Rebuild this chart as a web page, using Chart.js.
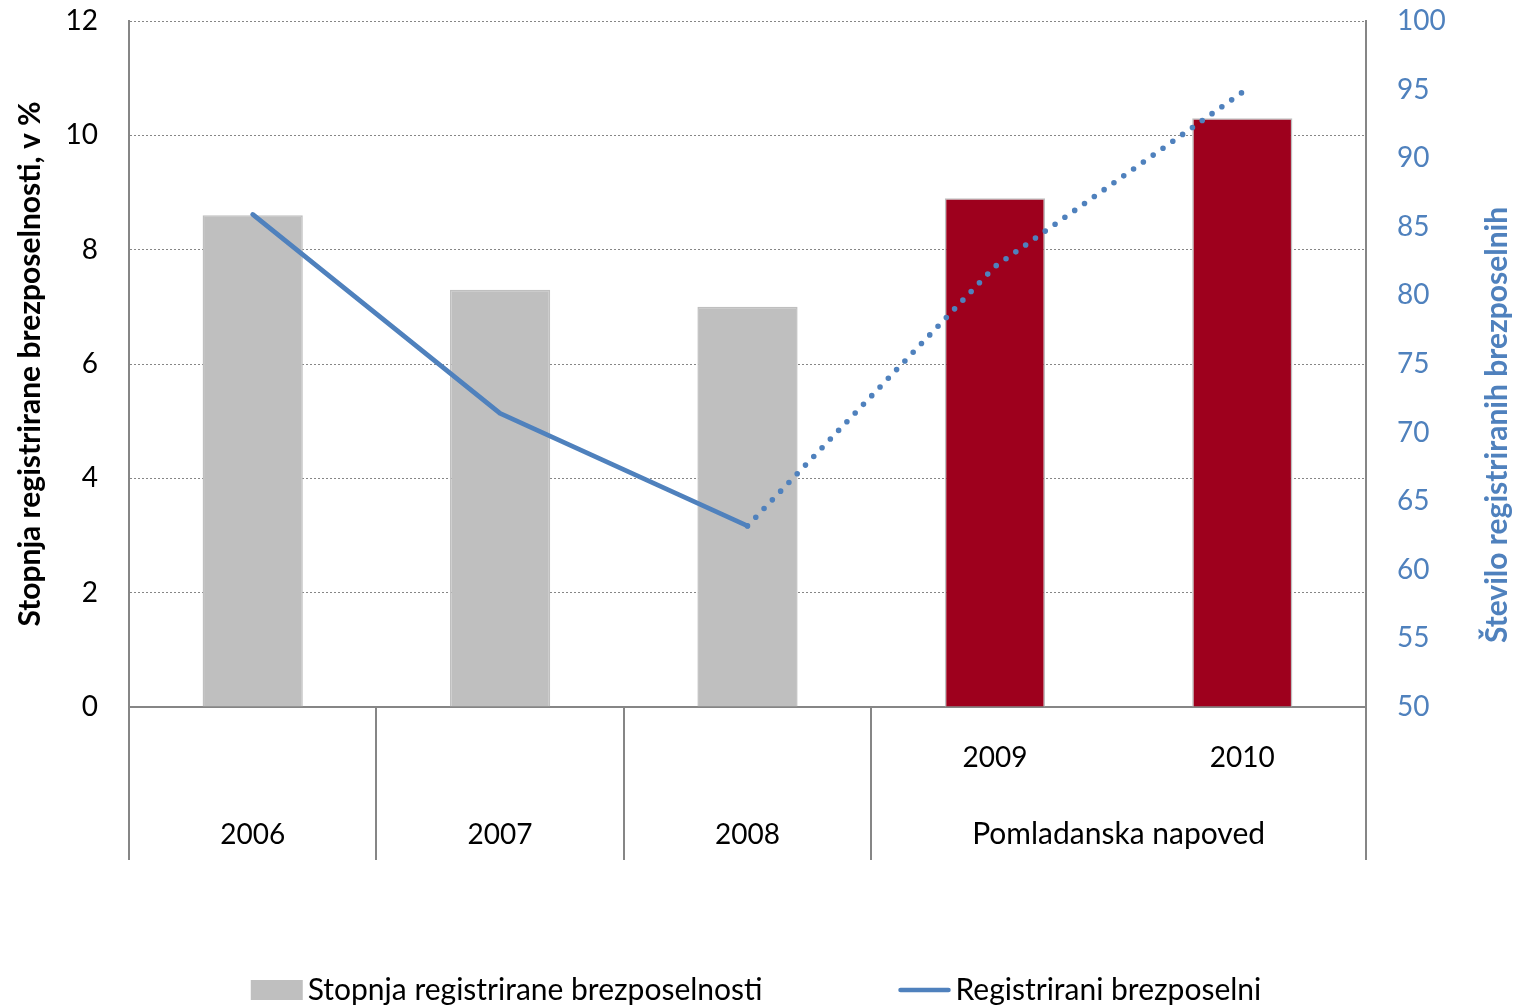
<!DOCTYPE html>
<html lang="sl">
<head>
  <meta charset="UTF-8">
  <title>Registrirana brezposelnost</title>
  <script src="https://cdn.jsdelivr.net/npm/chart.js"></script>
  <style>
    body {
      margin: 0;
      background: #fff;
    }
    #wrap {
      width: 1524px;
      height: 1008px;
      position: relative;
    }
  </style>
</head>
<body>
  <div id="wrap">
    <canvas id="chart"></canvas>
  </div>

  <script>
    // Data
    const categories = ['2006', '2007', '2008', '2009', '2010'];
    const rateValues = [8.6, 7.3, 7.0, 8.9, 10.3];          // % (left axis)
    const unemployedValues = [85.9, 71.4, 63.2, 82.1, 94.8]; // thousands (right axis)
    const forecastStart = 3;                                 // 2009 onwards = forecast
    const forecastGroup = 'Pomladanska napoved';
    const leftTicks = [0, 2, 4, 6, 8, 10, 12];
    const rightTicks = [50, 55, 60, 65, 70, 75, 80, 85, 90, 95, 100];

    const rateLabel = 'Stopnja registrirane brezposelnosti';
    const unemployedLabel = 'Registrirani brezposelni';
    const leftTitle = 'Stopnja registrirane brezposelnosti, v %';
    const rightTitle = 'Število registriranih brezposelnih';

    const FONT = 'Lato';
    const NUM_SIZE = 28;
    const TEXT_SIZE = 30;
    const GRAY = '#BFBFBF';
    const RED = '#9E001D';
    const BLUE = '#4F81BD';
    const AXIS = '#868686';

    // extra drawing: group label under the forecast years, right title, legend
    const extras = {
      id: 'extras',
      afterDraw(chart) {
        const ctx = chart.ctx;
        const x = chart.scales.x;
        const y1 = chart.scales.y1;
        const area = chart.chartArea;
        ctx.save();

        // group label centred under the forecast categories
        const step = x.getPixelForValue(1) - x.getPixelForValue(0);
        const gStart = x.getPixelForValue(forecastStart) - step / 2;
        const gEnd = x.getPixelForValue(categories.length - 1) + step / 2;
        ctx.font = TEXT_SIZE + 'px ' + FONT;
        ctx.fillStyle = '#000';
        ctx.textAlign = 'center';
        ctx.textBaseline = 'middle';
        ctx.fillText(forecastGroup, (gStart + gEnd) / 2, area.bottom + 127);

        // right axis title (reads bottom to top)
        ctx.save();
        ctx.translate(y1.right - 27, 425);
        ctx.rotate(-Math.PI / 2);
        ctx.font = 'bold ' + TEXT_SIZE + 'px ' + FONT;
        ctx.fillStyle = BLUE;
        ctx.fillText(rightTitle, 0, 0);
        ctx.restore();

        // legend
        ctx.font = TEXT_SIZE + 'px ' + FONT;
        ctx.textAlign = 'left';
        const boxW = 52, gap = 5, itemGap = 136;
        const w1 = boxW + gap + ctx.measureText(rateLabel).width;
        const w2 = boxW + gap + ctx.measureText(unemployedLabel).width;
        let lx = 756 - (w1 + itemGap + w2) / 2;
        const ly = 990;
        ctx.fillStyle = GRAY;
        ctx.fillRect(lx, ly - 10, boxW, 20);
        ctx.fillStyle = '#000';
        ctx.fillText(rateLabel, lx + boxW + gap, ly);
        lx += w1 + itemGap;
        ctx.strokeStyle = BLUE;
        ctx.lineWidth = 4.5;
        ctx.lineCap = 'round';
        ctx.beginPath();
        ctx.moveTo(lx + 2, ly);
        ctx.lineTo(lx + boxW - 2, ly);
        ctx.stroke();
        ctx.fillText(unemployedLabel, lx + boxW + gap, ly);

        ctx.restore();
      }
    };

    const ctx = document.getElementById('chart').getContext('2d');

    new Chart(ctx, {
      data: {
        labels: categories,
        datasets: [
          {
            type: 'line',
            label: unemployedLabel,
            data: unemployedValues,
            yAxisID: 'y1',
            borderColor: BLUE,
            backgroundColor: BLUE,
            borderWidth: 4.8,
            borderCapStyle: 'round',
            borderJoinStyle: 'round',
            pointRadius: 0,
            tension: 0,
            order: 0,
            segment: {
              borderDash: c => c.p1DataIndex >= forecastStart ? [0, 12] : undefined,
              borderWidth: c => c.p1DataIndex >= forecastStart ? 5.6 : undefined
            }
          },
          {
            type: 'bar',
            label: rateLabel,
            data: rateValues,
            yAxisID: 'y',
            backgroundColor: rateValues.map((v, i) => i >= forecastStart ? RED : GRAY),
            borderColor: GRAY,
            borderWidth: 1.5,
            categoryPercentage: 1,
            barPercentage: 0.405,
            order: 1
          }
        ]
      },
      options: {
        responsive: true,
        maintainAspectRatio: false,
        animation: false,
        layout: {
          padding: { top: 21, left: 0, right: 0, bottom: 148 }
        },
        plugins: {
          legend: { display: false },
          tooltip: { enabled: false }
        },
        scales: {
          x: {
            offset: true,
            grid: {
              offset: true,
              drawOnChartArea: false,
              drawTicks: true,
              tickLength: 153,
              lineWidth: 2,
              color: c => c.index === forecastStart + 1 ? 'rgba(0,0,0,0)' : AXIS
            },
            border: { display: true, color: AXIS, width: 2 },
            ticks: {
              padding: -141,
              color: '#000',
              font: { family: FONT, size: NUM_SIZE, lineHeight: 77 / NUM_SIZE },
              maxRotation: 0,
              autoSkip: false,
              callback: function (value, i) {
                const label = categories[i];
                return i >= forecastStart ? [label, ''] : ['', label];
              }
            },
            afterFit: s => { s.height = 153; }
          },
          y: {
            position: 'left',
            min: 0,
            max: 12,
            afterBuildTicks: s => { s.ticks = leftTicks.map(v => ({ value: v })); },
            grid: {
              color: AXIS,
              lineWidth: 1,
              drawTicks: false
            },
            border: { display: true, color: AXIS, width: 2, dash: [2, 2] },
            ticks: {
              padding: 31,
              color: '#000',
              font: { family: FONT, size: NUM_SIZE }
            },
            title: {
              display: true,
              text: leftTitle,
              color: '#000',
              font: { family: FONT, size: TEXT_SIZE, weight: 'bold' },
              padding: { top: 12, bottom: 0 }
            },
            afterFit: s => { s.width = 129; s.paddingTop = 0; s.paddingBottom = 0; }
          },
          y1: {
            position: 'right',
            min: 50,
            max: 100,
            afterBuildTicks: s => { s.ticks = rightTicks.map(v => ({ value: v })); },
            grid: { display: false, drawOnChartArea: false, drawTicks: false },
            border: { display: true, color: AXIS, width: 2 },
            ticks: {
              padding: 31,
              color: BLUE,
              font: { family: FONT, size: NUM_SIZE }
            },
            afterFit: s => { s.width = 158; s.paddingTop = 0; s.paddingBottom = 0; }
          }
        }
      },
      plugins: [extras]
    });
  </script>
</body>
</html>
